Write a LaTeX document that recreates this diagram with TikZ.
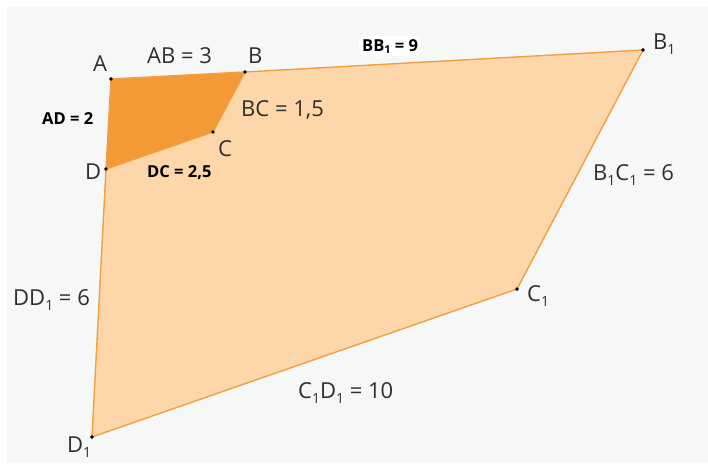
\documentclass[tikz,border=0pt]{standalone}
\usepackage{fontspec}
\setmainfont{Open Sans}
\usepackage{tikz}
\usetikzlibrary{positioning}
\definecolor{bggrey}{HTML}{F6F8F8}
\definecolor{darkfill}{HTML}{F39A36}
\definecolor{lightfill}{HTML}{FDD7A9}
\definecolor{sidecol}{HTML}{F0A042}
\definecolor{txt}{HTML}{2E2E2E}
\newcommand{\low}[1]{\raisebox{-5pt}{\fontsize{14}{14}\selectfont #1}}
\newcommand{\lowb}[1]{\raisebox{-2pt}{\fontsize{11}{11}\selectfont #1}}
\tikzset{
    vertex/.style={circle, fill=black, inner sep=0pt, minimum size=3.4pt},
    side/.style={draw=sidecol, line width=1.4pt, line join=round},
    lbl/.style={anchor=base west, inner sep=0pt, text=txt, font=\fontsize{22}{22}\selectfont},
    bold/.style={anchor=base west, inner sep=0pt, text=black, font=\bfseries\fontsize{16.5}{16.5}\selectfont}
}

\begin{document}
\begin{tikzpicture}[x=1pt, y=-1pt]
    \useasboundingbox (0,0) rectangle (708,463);
    \fill[white] (0,0) rectangle (708,463);
    \fill[bggrey] (7,7) rectangle (708,463);

    % Points
    \node[vertex] (A) at (111,79) {};
    \node[vertex] (B) at (245,72) {};
    \node[vertex] (C) at (213,132) {};
    \node[vertex] (D) at (106,169) {};
    \node[vertex] (B1) at (643,50) {};
    \node[vertex] (C1) at (517,289) {};
    \node[vertex] (D1) at (92,437) {};

    % faces
    \fill[lightfill] (A.center) -- (B1.center) -- (C1.center) -- (D1.center) -- cycle;
    \fill[darkfill] (A.center) -- (B.center) -- (C.center) -- (D.center) -- cycle;

    % sides
    \draw[side] (A.center) -- (B.center);
    \draw[side] (B.center) -- (B1.center);
    \draw[side] (B1.center) -- (C1.center);
    \draw[side] (C1.center) -- (D1.center);
    \draw[side] (D1.center) -- (D.center);
    \draw[side] (D.center) -- (A.center);
    \draw[side] (B.center) -- (C.center);
    \draw[side] (C.center) -- (D.center);

    % points again on top
    \foreach \p in {A,B,C,D,B1,C1,D1}
        \fill (\p.center) circle (1.8pt);

    % labels
    \node[lbl] (nA) at (93,71) {A};
    \node[lbl] (nB) at (248,63) {B};
    \node[lbl] (nC) at (218,156) {C};
    \node[lbl] (nD) at (85,179) {D};
    \node[lbl] (nB1) at (653,49) {B\low{1}};
    \node[lbl] (nC1) at (527,301) {C\low{1}};
    \node[lbl] (nD1) at (67,452) {D\low{1}};

    \node[lbl] (lAB) at (147,63) {AB = 3};
    \node[lbl] (lBC) at (241,116) {BC = 1,5};
    \node[lbl] (lBC1) at (593,180) {B\low{1}C\low{1} = 6};
    \node[lbl] (lDD1) at (13,305) {DD\low{1} = 6};
    \node[lbl] (lCD1) at (298,398) {C\low{1}D\low{1} = 10};

    \node[bold, fill=white, rounded corners=6pt, inner sep=3pt] (lBB1) at (359,51) {BB\lowb{1} = 9};
    \node[bold] (lAD) at (42,124) {AD = 2};
    \node[bold] (lDC) at (147,177) {DC = 2,5};
\end{tikzpicture}
\end{document}
